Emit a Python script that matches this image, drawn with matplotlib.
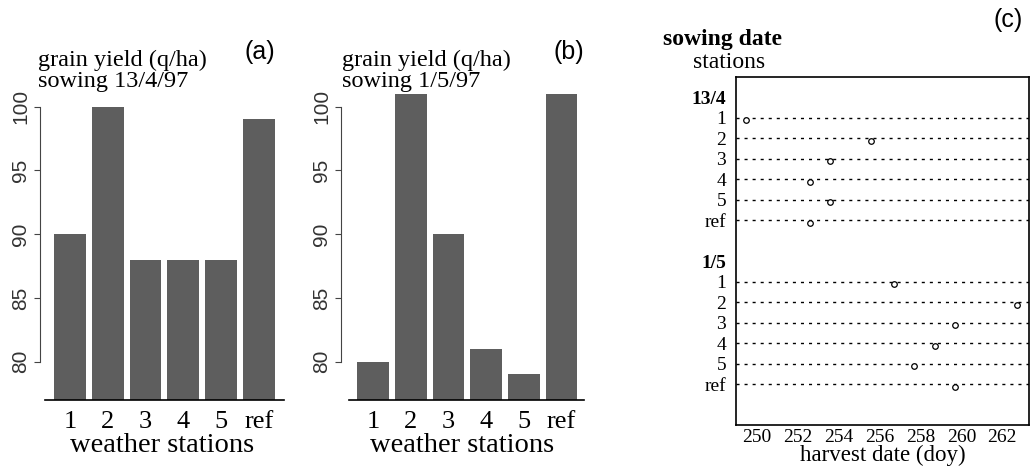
import matplotlib
matplotlib.use("Agg")
import matplotlib.pyplot as plt
from matplotlib.transforms import offset_copy

# panels (a) and (b): grain yield per weather station
stations = ["1", "2", "3", "4", "5", "ref"]
yield_sow_13_4 = [90, 100, 88, 88, 88, 99]
yield_sow_1_5 = [80, 101, 90, 81, 79, 101]
yield_ticks = [80, 85, 90, 95, 100]

# panel (c): harvest date (doy) per station and sowing date
row_labels = ["13/4", "1", "2", "3", "4", "5", "ref",
              "1/5", "1", "2", "3", "4", "5", "ref"]
row_pos = [0, 1, 2, 3, 4, 5, 6, 8, 9, 10, 11, 12, 13, 14]
header_rows = [0, 8]
station_rows_13_4 = [1, 2, 3, 4, 5, 6]
station_rows_1_5 = [9, 10, 11, 12, 13, 14]
harvest_13_4 = [249.5, 255.6, 253.6, 252.6, 253.6, 252.6]
harvest_1_5 = [256.7, 262.7, 259.7, 258.7, 257.7, 259.7]
doy_ticks = [250, 252, 254, 256, 258, 260, 262]

W, H = 1035, 470
SERIF = "Liberation Serif"
SANS = "Liberation Sans"
BAR = "#5e5e5e"


def px_box(left, top, right, bottom):
    return [left / W, 1 - bottom / H, (right - left) / W, (bottom - top) / H]


def bar_panel(fig, box, values, subtitle, tag, xlim, spine_start, text_x, tag_x):
    ax = fig.add_axes(box)
    x = range(len(values))
    ax.bar(x, values, width=0.84, color=BAR, bottom=0)
    ax.set_ylim(77.0, 101.3)
    ax.set_xlim(*xlim)
    for s in ["top", "right"]:
        ax.spines[s].set_visible(False)
    ax.spines["left"].set_bounds(80, 100)
    ax.spines["left"].set_color("#444444")
    ax.spines["left"].set_linewidth(0.8)
    ax.spines["bottom"].set_bounds(spine_start, xlim[1])
    ax.spines["bottom"].set_linewidth(1.2)
    ax.set_yticks(yield_ticks)
    ax.set_yticklabels([str(t) for t in yield_ticks], rotation=90, va="center",
                       family=SANS, fontsize=15, color="#333333")
    ax.tick_params(axis="y", direction="out", length=4, width=0.8, pad=3, color="#444444")
    ax.set_xticks(list(x))
    ax.set_xticklabels(stations, family=SERIF, fontsize=19)
    ax.tick_params(axis="x", length=0, pad=8)
    ax.set_xlabel("weather stations", family=SERIF, fontsize=20.5, labelpad=0)
    fig.text(text_x / W, 1 - 60 / H, "grain yield (q/ha)", family=SERIF, fontsize=17.5, va="center")
    fig.text(text_x / W, 1 - 82 / H, subtitle, family=SERIF, fontsize=17.5, va="center")
    fig.text(tag_x / W, 1 - 52 / H, tag, family=SANS, fontsize=18, va="center", ha="center")
    return ax


fig = plt.figure(figsize=(W / 100, H / 100), dpi=100)

bar_panel(fig, px_box(40, 90, 284, 400), yield_sow_13_4, "sowing 13/4/97", "(a)",
          (-0.79, 5.66), -0.66, 38, 260)
bar_panel(fig, px_box(341, 90, 584, 400), yield_sow_1_5, "sowing 1/5/97", "(b)",
          (-0.85, 5.6), -0.64, 342, 569)

# panel (c)
ax = fig.add_axes(px_box(736, 77, 1029, 425))
ax.set_xlim(249.0, 263.3)
ax.set_ylim(16, -1)
for s in ax.spines.values():
    s.set_linewidth(1.2)
ax.hlines(station_rows_13_4 + station_rows_1_5, 249.0, 263.3, colors="black",
          linewidth=1.0, linestyles=(0, (2.2, 3.6)))
mark_tr = offset_copy(ax.transData, fig=fig, x=0, y=-2.5, units="dots")
ax.plot(harvest_13_4 + harvest_1_5, station_rows_13_4 + station_rows_1_5, "o",
        markersize=4, markerfacecolor="white", markeredgecolor="black",
        markeredgewidth=0.9, transform=mark_tr, zorder=3)
ax.set_yticks(row_pos)
ax.set_yticklabels(row_labels, family=SERIF, fontsize=14)
for lab, pos in zip(ax.get_yticklabels(), row_pos):
    if pos in header_rows:
        lab.set_fontweight("bold")
ax.tick_params(axis="y", length=0, pad=7)
ax.set_xticks(doy_ticks)
ax.set_xticklabels([str(t) for t in doy_ticks], family=SERIF, fontsize=14)
ax.tick_params(axis="x", length=0, pad=3)
ax.set_xlabel("harvest date (doy)", family=SERIF, fontsize=16.5, labelpad=-1)
fig.text(663 / W, 1 - 40 / H, "sowing date", family=SERIF, fontsize=17,
         fontweight="bold", va="center")
fig.text(693 / W, 1 - 63 / H, "stations", family=SERIF, fontsize=17, va="center")
fig.text(1008 / W, 1 - 20 / H, "(c)", family=SANS, fontsize=18, va="center", ha="center")

fig.savefig("out.png", dpi=100)
